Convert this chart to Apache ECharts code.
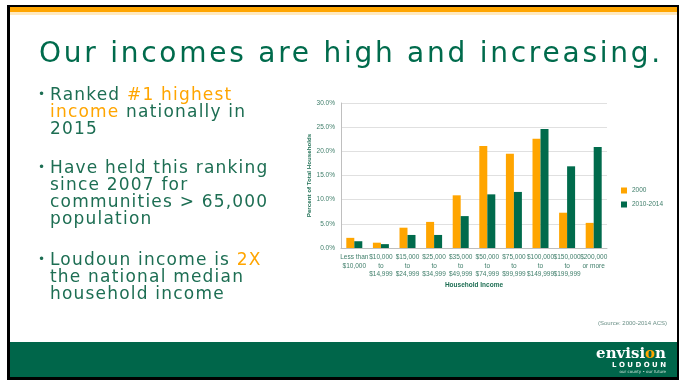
<!DOCTYPE html>
<html>
<head>
<meta charset="utf-8">
<script src="https://cdn.jsdelivr.net/npm/echarts@6/dist/echarts.min.js"></script>
<style>
  html, body { margin: 0; padding: 0; background: #fff; }
  #wrap { position: relative; width: 685px; height: 381px; }
  #main { position: absolute; left: 0; top: 0; width: 685px; height: 381px; }
  .title { position: absolute; left: 39px; top: 39px; font: 28px/28px "DejaVu Sans"; letter-spacing: 2.75px;
    color: #006B4C; white-space: nowrap; }
  .bul { position: absolute; left: 50px; font: 17px/17.3px "DejaVu Sans"; letter-spacing: 1.2px;
    color: #1D6E53; white-space: nowrap; }
  .bul:before { content: '\2022'; position: absolute; left: -12px; font-size: 12px; letter-spacing: 0; }
  .o { color: #FFA500; }
</style>
</head>
<body>
<div id="wrap">
  <div id="main"></div>
  <div class="title">Our incomes are high and increasing.</div>
  <div class="bul" style="top:85.6px">Ranked <span class="o">#1 highest</span><br><span class="o">income</span> nationally in<br>2015</div>
  <div class="bul" style="top:158.6px">Have held this ranking<br>since 2007 for<br>communities &gt; 65,000<br>population</div>
  <div class="bul" style="top:250.6px">Loudoun income is <span class="o">2X</span><br>the national median<br>household income</div>
</div>
<script>
var chart = echarts.init(document.getElementById('main'));

// data
var categories = ['Less than\n$10,000', '$10,000\nto\n$14,999', '$15,000\nto\n$24,999', '$25,000\nto\n$34,999',
  '$35,000\nto\n$49,999', '$50,000\nto\n$74,999', '$75,000\nto\n$99,999', '$100,000\nto\n$149,999',
  '$150,000\nto\n$199,999', '$200,000\nor more'];
var y2000 = [2.1, 1.1, 4.2, 5.4, 10.9, 21.1, 19.5, 22.6, 7.3, 5.2];
var y2010 = [1.4, 0.8, 2.7, 2.7, 6.6, 11.1, 11.6, 24.6, 16.9, 20.9];
var seriesNames = ['2000', '2010-2014'];

var green = '#006B4C';
var orange = '#FFA500';
var txt = '#1D6E53';
var lbl = '#3E7D69';

var graphics = [
  // frame
  { type: 'rect', shape: { x: 7, y: 5, width: 672, height: 375 }, style: { fill: '#000' }, z: -10 },
  { type: 'rect', shape: { x: 10, y: 7, width: 667, height: 370 }, style: { fill: '#fff' }, z: -9 },
  { type: 'rect', shape: { x: 10, y: 7, width: 667, height: 5 }, style: { fill: '#FFA500' }, z: -8 },
  { type: 'rect', shape: { x: 10, y: 12, width: 667, height: 3 }, style: { fill: '#FFE9BF' }, z: -8 },
  { type: 'rect', shape: { x: 10, y: 342, width: 667, height: 35 }, style: { fill: '#00664A' }, z: -8 },
  // source
  { type: 'text', x: 667, y: 323, style: { text: '(Source: 2000-2014 ACS)', font: '6px "Liberation Sans Narrow", "Liberation Sans"', fill: '#6A8F86', align: 'right', verticalAlign: 'middle' } },
  // logo
  { type: 'text', x: 666, y: 354, style: { text: 'envisi{o|o}n', font: 'bold 15px "DejaVu Serif"', fill: '#fff', align: 'right', verticalAlign: 'middle',
      rich: { o: { font: 'bold 15px "DejaVu Serif"', fill: '#FFA500' } } } },
  { type: 'text', x: 666, y: 365, style: { text: 'L O U D O U N', font: 'bold 7px "DejaVu Sans"', fill: '#fff', align: 'right', verticalAlign: 'middle' } },
  { type: 'text', x: 666, y: 372, style: { text: 'our county \u2022 our future', font: '4px "DejaVu Sans"', fill: '#cfe3da', align: 'right', verticalAlign: 'middle' } }
];

var option = {
  animation: false,
  graphic: graphics,
  grid: { left: 341, right: 78, top: 103, bottom: 133 },
  legend: {
    data: seriesNames,
    orient: 'vertical',
    left: 616,
    top: 182,
    itemWidth: 6,
    itemHeight: 6,
    itemGap: 7,
    icon: 'rect',
    textStyle: { fontSize: 6.5, color: lbl, fontFamily: 'Liberation Sans' }
  },
  xAxis: {
    type: 'category',
    data: categories,
    name: 'Household Income',
    nameLocation: 'middle',
    nameGap: 34,
    nameTextStyle: { fontSize: 6.5, fontWeight: 'bold', color: txt, fontFamily: 'Liberation Sans' },
    axisTick: { show: false },
    axisLine: { lineStyle: { color: '#BFBFBF' } },
    axisLabel: { interval: 0, fontSize: 6.5, lineHeight: 8.5, color: lbl, fontFamily: 'Liberation Sans', margin: 5 }
  },
  yAxis: {
    type: 'value',
    min: 0,
    max: 30,
    interval: 5,
    name: 'Percent of Total Households',
    nameLocation: 'middle',
    nameGap: 28,
    nameTextStyle: { fontSize: 6.2, fontWeight: 'bold', color: txt, fontFamily: 'Liberation Sans' },
    axisLine: { show: true, lineStyle: { color: '#BFBFBF' } },
    axisLabel: { fontSize: 6.5, color: lbl, fontFamily: 'Liberation Sans', margin: 6,
      formatter: function (v) { return v.toFixed(1) + '%'; } },
    splitLine: { lineStyle: { color: '#E0E0E0' } }
  },
  series: [
    { name: seriesNames[0], type: 'bar', data: y2000, barWidth: 8, barGap: '0%', itemStyle: { color: orange } },
    { name: seriesNames[1], type: 'bar', data: y2010, barWidth: 8, itemStyle: { color: green } }
  ]
};

chart.setOption(option);
</script>
</body>
</html>
